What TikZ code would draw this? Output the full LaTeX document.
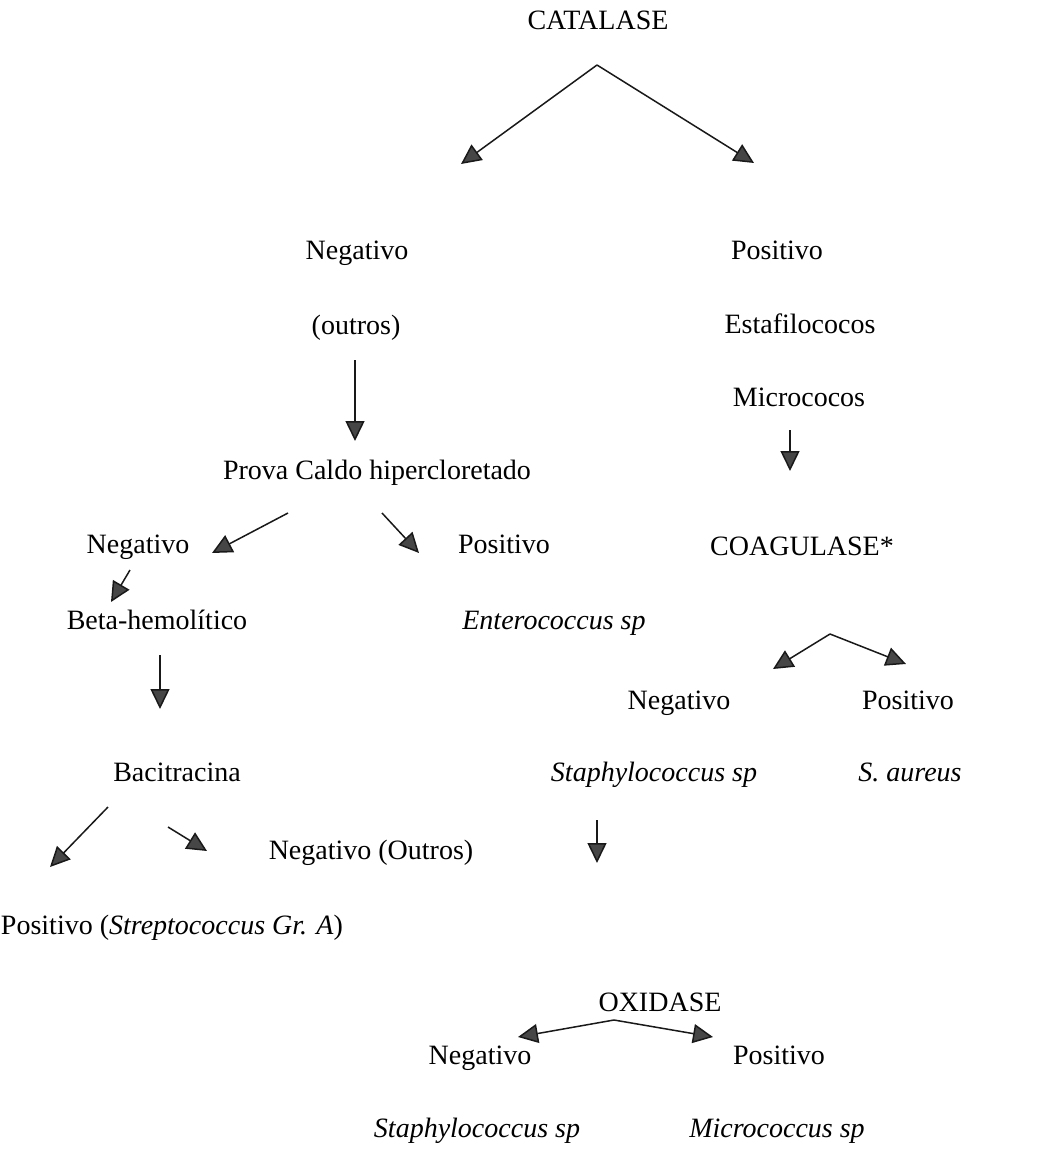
\documentclass[tikz,border=0pt]{standalone}
\usepackage{fontspec}
\setmainfont{Liberation Serif}
\usetikzlibrary{arrows.meta}

\begin{document}
\begin{tikzpicture}[x=0.5pt, y=-0.5pt,
  lbl/.style={inner sep=0pt, text height=1.6ex, text depth=0.45ex, font=\fontsize{14}{17}\selectfont},
  arr/.style={-{Triangle[length=10pt, width=9.5pt, fill=gray!55!black]}, line width=0.75pt, black!90}]
  \useasboundingbox (0,0) rectangle (1055,1151);
  % catalase
  \node[lbl] (cat) at (598,24) {CATALASE};
  \node[lbl] (negA) at (357,254) {Negativo};
  \node[lbl] (outros) at (356,329) {(outros)};
  \node[lbl] (posA) at (777,254) {Positivo};
  \node[lbl] (estaf) at (800,328) {Estafilococos};
  \node[lbl] (micro) at (799,401) {Micrococos};
  % caldo hipercloretado
  \node[lbl] (prova) at (377,474) {Prova Caldo hipercloretado};
  \node[lbl] (negB) at (138,548) {Negativo};
  \node[lbl] (posB) at (504,548) {Positivo};
  \node[lbl] (beta) at (157,624) {Beta-hemolítico};
  \node[lbl] (entero) at (554,624) {\textit{Enterococcus sp}};
  \node[lbl] (baci) at (177,776) {Bacitracina};
  \node[lbl] (negD) at (371,854) {Negativo (Outros)};
  \node[lbl] (posD) at (172,929) {Positivo (\textit{Streptococcus Gr. A})};
  % coagulase
  \node[lbl] (coag) at (802,550) {COAGULASE*};
  \node[lbl] (negC) at (679,704) {Negativo};
  \node[lbl] (posC) at (908,704) {Positivo};
  \node[lbl] (staphA) at (654,776) {\textit{Staphylococcus sp}};
  \node[lbl] (aureus) at (910,776) {\textit{S. aureus}};
  % oxidase
  \node[lbl] (oxi) at (660,1006) {OXIDASE};
  \node[lbl] (negE) at (480,1059) {Negativo};
  \node[lbl] (posE) at (779,1059) {Positivo};
  \node[lbl] (staphB) at (477,1132) {\textit{Staphylococcus sp}};
  \node[lbl] (microB) at (777,1132) {\textit{Micrococcus sp}};
  % arrow ends
  \coordinate (catfork) at (597,65);
  \coordinate (catL) at (461,164);
  \coordinate (catR) at (754,163);
  \coordinate (outros0) at (355,360);
  \coordinate (outros1) at (355,441);
  \coordinate (micro0) at (790,430);
  \coordinate (micro1) at (790,471);
  \coordinate (provaL0) at (288,513);
  \coordinate (provaL) at (212,553);
  \coordinate (provaR0) at (382,513);
  \coordinate (provaR) at (419,553);
  \coordinate (negB0) at (130,570);
  \coordinate (negB1) at (111,602);
  \coordinate (beta0) at (160,655);
  \coordinate (beta1) at (160,709);
  \coordinate (coagfork) at (830,634);
  \coordinate (coagL) at (773,669);
  \coordinate (coagR) at (906,664);
  \coordinate (baciL0) at (108,807);
  \coordinate (baciL) at (50,867);
  \coordinate (baciR0) at (168,827);
  \coordinate (baciR) at (207,851);
  \coordinate (staph0) at (597,820);
  \coordinate (staph1) at (597,863);
  \coordinate (oxifork) at (614,1020);
  \coordinate (oxiL) at (518,1037);
  \coordinate (oxiR) at (713,1037);
  % arrows
  \draw[arr] (catfork) -- (catL);
  \draw[arr] (catfork) -- (catR);
  \draw[arr] (outros0) -- (outros1);
  \draw[arr] (micro0) -- (micro1);
  \draw[arr] (provaL0) -- (provaL);
  \draw[arr] (provaR0) -- (provaR);
  \draw[arr] (negB0) -- (negB1);
  \draw[arr] (beta0) -- (beta1);
  \draw[arr] (coagfork) -- (coagL);
  \draw[arr] (coagfork) -- (coagR);
  \draw[arr] (baciL0) -- (baciL);
  \draw[arr] (baciR0) -- (baciR);
  \draw[arr] (staph0) -- (staph1);
  \draw[arr] (oxifork) -- (oxiL);
  \draw[arr] (oxifork) -- (oxiR);
\end{tikzpicture}
\end{document}
